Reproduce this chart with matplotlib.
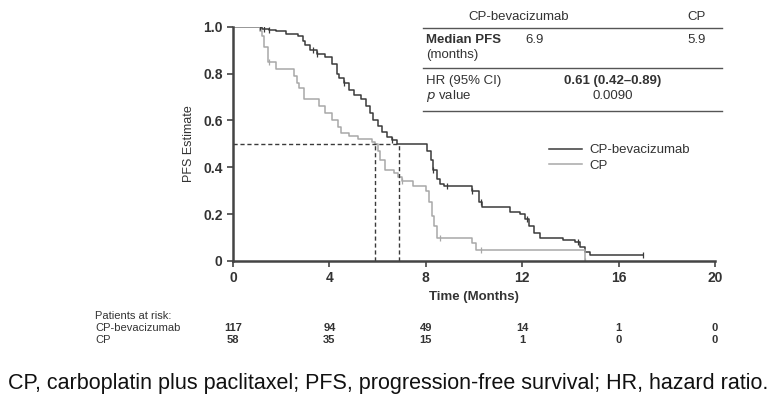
import numpy as np
import matplotlib
matplotlib.use('Agg')
import matplotlib.pyplot as plt
from matplotlib.lines import Line2D

plt.rcParams['font.family'] = ['Liberation Sans', 'DejaVu Sans']

# Kaplan-Meier step data
bev_t = [0, 1.2, 1.5, 1.8, 2.2, 2.7, 2.9, 3.0, 3.2, 3.5,
         3.8, 4.1, 4.3, 4.4, 4.6, 4.8, 5.0, 5.3, 5.5, 5.7,
         5.8, 6.0, 6.2, 6.4, 6.6, 6.8, 8.05, 8.2, 8.3, 8.45,
         8.6, 8.75, 9.9, 10.2, 10.35, 11.5, 11.9, 12.1, 12.3, 12.5,
         12.75, 13.7, 14.2, 14.4, 14.6, 14.8, 17.0]
bev_s = [1.0, 0.99, 0.985, 0.98, 0.97, 0.96, 0.94, 0.92, 0.90, 0.885,
         0.87, 0.84, 0.80, 0.78, 0.76, 0.73, 0.71, 0.69, 0.66, 0.63,
         0.60, 0.575, 0.55, 0.53, 0.515, 0.50, 0.47, 0.43, 0.39, 0.35,
         0.33, 0.32, 0.30, 0.25, 0.23, 0.21, 0.20, 0.18, 0.15, 0.12,
         0.10, 0.09, 0.08, 0.06, 0.04, 0.026, 0.026]

cp_t = [0, 1.1, 1.2, 1.3, 1.45, 1.8, 2.55, 2.65, 2.75, 2.95,
        3.55, 3.8, 4.1, 4.35, 4.5, 4.8, 5.2, 5.75, 5.9, 6.0,
        6.1, 6.3, 6.7, 6.85, 7.0, 7.45, 8.0, 8.15, 8.25, 8.35,
        8.45, 9.9, 10.1, 14.6]
cp_s = [1.0, 0.98, 0.96, 0.915, 0.85, 0.82, 0.79, 0.76, 0.74, 0.69,
        0.66, 0.63, 0.60, 0.57, 0.545, 0.535, 0.52, 0.51, 0.50, 0.47,
        0.43, 0.39, 0.375, 0.36, 0.34, 0.32, 0.30, 0.25, 0.19, 0.15,
        0.10, 0.075, 0.047, 0.0]

# censored observations
bev_cens_t = [1.1, 1.3, 1.5, 3.3, 3.5, 4.6, 6.6, 8.3, 8.9, 9.9, 10.3, 12.2, 14.3, 17.0]
cp_cens_t = [1.5, 7.0, 8.6, 10.3, 14.6]

medians = [6.9, 5.9]

risk_times = [0, 4, 8, 12, 16, 20]
risk_bev = [117, 94, 49, 14, 1, 0]
risk_cp = [58, 35, 15, 1, 0, 0]

dark = '#3a3a3a'
light = '#a8a8a8'
txt = '#333333'

W, H = 778, 397
fig = plt.figure(figsize=(W / 100, H / 100), dpi=100)


def px(x, y):
    return x / W, 1 - y / H


ax = fig.add_axes([233 / W, 1 - 261 / H, (715 - 233) / W, (261 - 26.7) / H])


def surv_at(ts, ss, t):
    idx = np.searchsorted(ts, t, side='right') - 1
    return ss[idx]


ax.step(bev_t, bev_s, where='post', color=dark, lw=1.1)
ax.step(cp_t, cp_s, where='post', color=light, lw=1.1)
ax.plot(bev_cens_t, [surv_at(bev_t, bev_s, t) for t in bev_cens_t], ls='none',
        marker='|', ms=5, mew=0.9, color=dark)
ax.plot(cp_cens_t, [surv_at(cp_t, cp_s, t) for t in cp_cens_t], ls='none',
        marker='|', ms=5, mew=0.9, color=light)

# median reference lines
ax.plot([0, max(medians)], [0.5, 0.5], ls=(0, (3, 2)), color=dark, lw=1)
for m in medians:
    ax.plot([m, m], [0, 0.5], ls=(0, (3, 2)), color=dark, lw=1)

ax.set_xlim(0, 20)
ax.set_ylim(0, 1.0)
ax.set_xticks([0, 4, 8, 12, 16, 20])
ax.set_yticks([0, 0.2, 0.4, 0.6, 0.8, 1.0])
ax.set_yticklabels(['0', '0.2', '0.4', '0.6', '0.8', '1.0'])
for s in ['top', 'right']:
    ax.spines[s].set_visible(False)
for s in ['left', 'bottom']:
    ax.spines[s].set_color('#444444')
    ax.spines[s].set_linewidth(1.8)
ax.tick_params(direction='out', length=4, width=1.2, color='#444444',
               labelsize=10, labelcolor=txt)
for lab in ax.get_xticklabels() + ax.get_yticklabels():
    lab.set_fontweight('bold')
ax.set_xlabel('Time (Months)', fontsize=9.5, fontweight='bold', color=txt, labelpad=4)
ax.set_ylabel('PFS Estimate', fontsize=9, color=txt, labelpad=6)

# legend
leg = ax.legend([Line2D([], [], color=dark, lw=1.1), Line2D([], [], color=light, lw=1.1)],
                ['CP-bevacizumab', 'CP'], loc='upper left',
                bbox_to_anchor=(0.63, 0.55), frameon=False, fontsize=9.5,
                handlelength=2.5, handletextpad=0.6, labelspacing=0.25)
for t in leg.get_texts():
    t.set_color(txt)

# summary table
fs = 9.5
for y in [28, 68, 111]:
    fig.add_artist(Line2D([423 / W, 722 / W], [1 - y / H, 1 - y / H], color='#555555', lw=1))
fig.text(*px(519, 17), 'CP-bevacizumab', ha='center', va='center', fontsize=fs, color=txt)
fig.text(*px(697, 17), 'CP', ha='center', va='center', fontsize=fs, color=txt)
fig.text(*px(426, 40), 'Median PFS', ha='left', va='center', fontsize=fs, color=txt, fontweight='bold')
fig.text(*px(426, 55), '(months)', ha='left', va='center', fontsize=fs, color=txt)
fig.text(*px(535, 40), '6.9', ha='center', va='center', fontsize=fs, color=txt)
fig.text(*px(697, 40), '5.9', ha='center', va='center', fontsize=fs, color=txt)
fig.text(*px(426, 81), 'HR (95% CI)', ha='left', va='center', fontsize=fs, color=txt)
fig.text(*px(426, 96), '$p$ value', ha='left', va='center', fontsize=fs, color=txt)
fig.text(*px(613, 81), '0.61 (0.42\u20130.89)', ha='center', va='center', fontsize=fs, color=txt,
         fontweight='bold')
fig.text(*px(613, 96), '0.0090', ha='center', va='center', fontsize=fs, color=txt)

# patients at risk
rfs = 8
fig.text(*px(95, 316), 'Patients at risk:', ha='left', va='center', fontsize=rfs, color=txt)
fig.text(*px(95, 328), 'CP-bevacizumab', ha='left', va='center', fontsize=rfs, color=txt)
fig.text(*px(95, 340), 'CP', ha='left', va='center', fontsize=rfs, color=txt)
for t, nb, nc in zip(risk_times, risk_bev, risk_cp):
    xf = ax.transData.transform((t, 0))[0] / W
    fig.text(xf, 1 - 328 / H, str(nb), ha='center', va='center', fontsize=rfs, color=txt,
             fontweight='bold')
    fig.text(xf, 1 - 340 / H, str(nc), ha='center', va='center', fontsize=rfs, color=txt,
             fontweight='bold')

# footnote
fig.text(*px(8, 383), 'CP, carboplatin plus paclitaxel; PFS, progression-free survival; HR, hazard ratio.',
         ha='left', va='center', fontsize=15.5, color='#111111')

fig.savefig('out.png', dpi=100)
